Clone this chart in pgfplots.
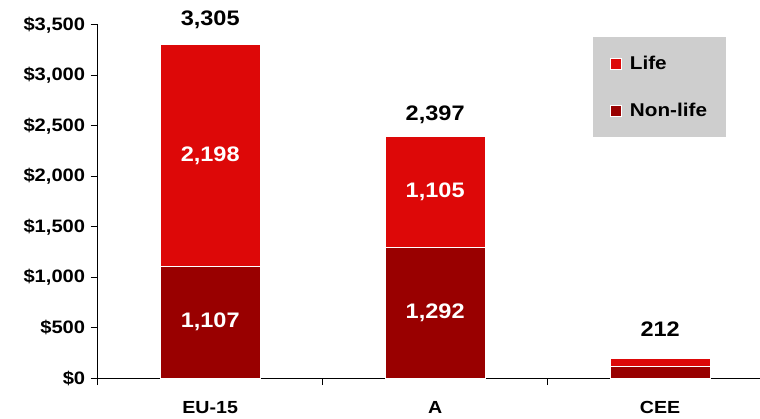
\documentclass[border=0pt]{standalone}
\usepackage{fontspec}
\setmainfont{Liberation Sans}[FakeStretch=1.12]
\usepackage{pgfplots}
\pgfplotsset{compat=1.18}
\definecolor{life}{RGB}{221,8,8}
\definecolor{nonlife}{RGB}{153,0,0}
\definecolor{legbg}{RGB}{206,206,206}
\begin{document}
\begin{tikzpicture}[x=1bp,y=1bp]
\useasboundingbox (0,0) rectangle (760,418);
\begin{axis}[
  at={(97.7bp,40bp)}, anchor=south west,
  scale only axis, width=662.3bp, height=353bp,
  xmin=-0.5, xmax=2.444, ymin=0, ymax=3500,
  axis lines*=left,
  axis line style={-, black, line width=1bp},
  tick style={black, line width=1bp},
  tick align=outside, major tick length=7bp,
  ytick={0,500,...,3500},
  /pgf/number format/1000 sep={,},
  /pgf/number format/assume math mode=true,
  yticklabel={\$\pgfmathprintnumber{\tick}},
  yticklabel style={font=\fontsize{18bp}{20bp}\selectfont\bfseries, xshift=-2bp},
  xtick={-0.5,0.5,1.5}, xticklabels={},
  extra x ticks={0,1,2}, extra x tick labels={EU-15,A,CEE},
  extra x tick style={major tick length=0pt, tick label style={font=\fontsize{17.5bp}{19bp}\selectfont\bfseries, yshift=-20bp}},
  ybar stacked, bar width=100bp,
  clip=false,
  legend style={at={(0.7474,0.966)}, anchor=north west, fill=legbg, draw=none,
    font=\fontsize{18.5bp}{20bp}\selectfont\bfseries,
    inner xsep=17bp, inner ysep=17bp, row sep=28bp,
    /tikz/every odd column/.append style={column sep=6bp}},
  legend cell align=left,
  reverse legend,
  legend image code/.code={\draw[#1, draw=white, line width=1bp] (0bp,-5.5bp) rectangle (11bp,5.5bp);},
]
\addplot[fill=nonlife, draw=white, line width=1bp] coordinates {(0,1107) (1,1292) (2,118)};
\addlegendentry{Non-life}
\addplot[fill=life, draw=white, line width=1bp] coordinates {(0,2198) (1,1105) (2,77)};
\addlegendentry{Life}
\coordinate (t0) at (axis cs:0,3549);
\coordinate (t1) at (axis cs:1,2608);
\coordinate (t2) at (axis cs:2,486);
\coordinate (l0) at (axis cs:0,2206);
\coordinate (n0) at (axis cs:0,553);
\coordinate (l1) at (axis cs:1,1844);
\coordinate (n1) at (axis cs:1,646);
\end{axis}
\begin{scope}[every node/.style={font=\fontsize{21bp}{23bp}\selectfont\bfseries}]
\node at (t0) {3,305};
\node at (t1) {2,397};
\node at (t2) {212};
\node[text=white] at (l0) {2,198};
\node[text=white] at (n0) {1,107};
\node[text=white] at (l1) {1,105};
\node[text=white] at (n1) {1,292};
\end{scope}
\end{tikzpicture}
\end{document}
